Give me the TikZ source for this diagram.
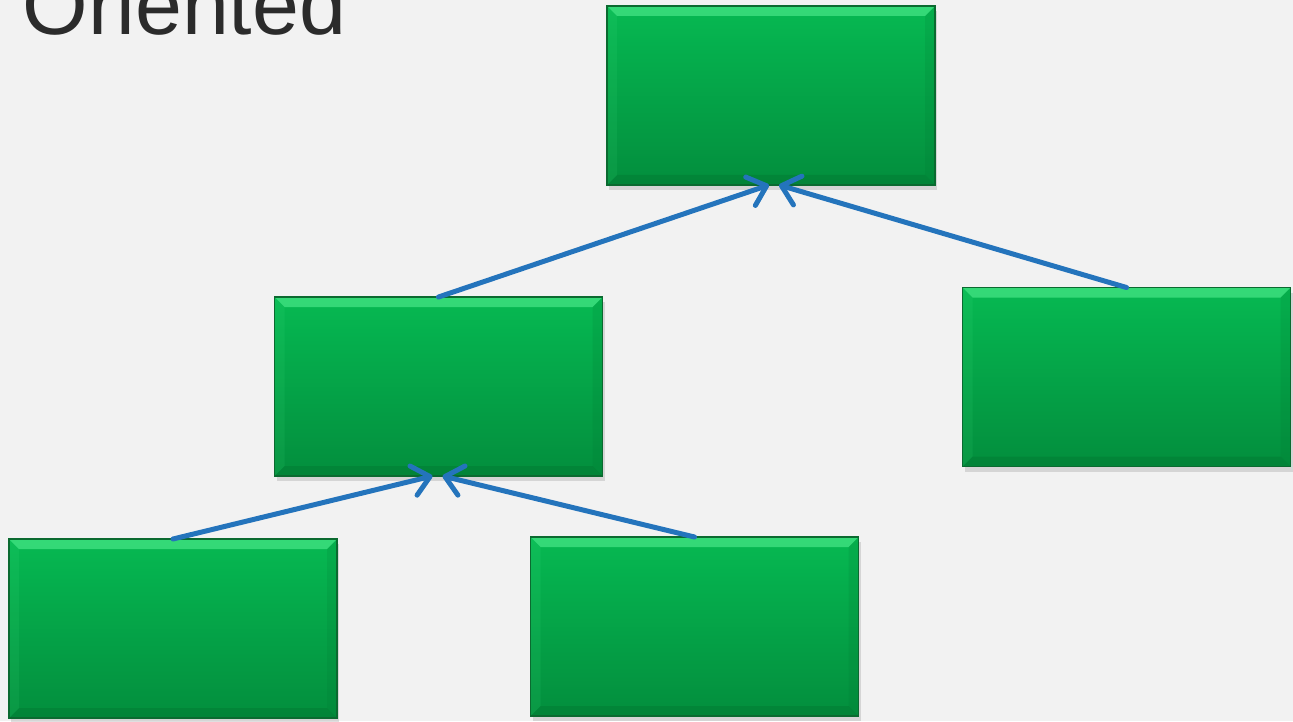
\documentclass[tikz,border=0pt]{standalone}
\usepackage{fontspec}
\setmainfont{Liberation Sans}
\usepackage{xcolor}
\usepackage{tikz}
\usetikzlibrary{shapes,backgrounds,calc,shadows,arrows.meta}

\definecolor{slidebg}{HTML}{F2F2F2}
\definecolor{boxtop}{HTML}{06B952}
\definecolor{boxbottom}{HTML}{038E3D}
\definecolor{boxedge}{HTML}{0B6A30}
\definecolor{bevellight}{HTML}{4DEB8C}
\definecolor{beveldark}{HTML}{02722F}
\definecolor{linkblue}{HTML}{2474BC}
\definecolor{titlegray}{HTML}{2B2B2B}

\begin{document}
\begin{tikzpicture}
        % Define the style for the bevelled green boxes
        \tikzstyle{green box}=[minimum width=3.28cm, minimum height=1.79cm, inner sep=0pt, outer sep=0pt,
            top color=boxtop, bottom color=boxbottom, draw=boxedge, line width=0.5pt,
            drop shadow={shadow xshift=0.02cm, shadow yshift=-0.05cm, opacity=0.25},
            path picture={
                \coordinate (nw) at (path picture bounding box.north west);
                \coordinate (ne) at (path picture bounding box.north east);
                \coordinate (sw) at (path picture bounding box.south west);
                \coordinate (se) at (path picture bounding box.south east);
                \fill[bevellight, opacity=0.65] (nw) -- (ne) -- ($(ne)+(-0.1,-0.1)$) -- ($(nw)+(0.1,-0.1)$) -- cycle;
                \fill[beveldark, opacity=0.35] (sw) -- (se) -- ($(se)+(-0.1,0.1)$) -- ($(sw)+(0.1,0.1)$) -- cycle;
                \fill[bevellight, opacity=0.1] (nw) -- (sw) -- ($(sw)+(0.1,0.1)$) -- ($(nw)+(0.1,-0.1)$) -- cycle;
                \fill[beveldark, opacity=0.15] (ne) -- (se) -- ($(se)+(-0.1,0.1)$) -- ($(ne)+(-0.1,-0.1)$) -- cycle;
            }];
        % Define the style for the links
        \tikzstyle{link}=[draw=linkblue, line width=0.05cm, line cap=round,
            -{Straight Barb[length=0.17cm, width=0.3cm, round]}];

        % Fix the slide area and its background
        \useasboundingbox (0,0) rectangle (12.93,7.21);
        \fill[slidebg] (0,0) rectangle (12.93,7.21);

        % Title, cut by the top edge
        \node[anchor=base west, inner sep=0pt, text=titlegray, font=\fontsize{24pt}{28pt}\selectfont] (title) at (0.22,6.86) {Oriented};

        % Draw the boxes of the tree
        \node[green box] (root) at (7.71,6.255) {};
        \node[green box] (left) at (4.385,3.345) {};
        \node[green box] (right) at (11.265,3.44) {};
        \node[green box] (leafA) at (1.73,0.925) {};
        \node[green box] (leafB) at (6.945,0.945) {};

        % Draw the links up to the parents
        \draw[link] (left.north) -- ([xshift=-0.02cm]root.south);
        \draw[link] (right.north) -- ([xshift=0.08cm]root.south);
        \draw[link] (leafA.north) -- ([xshift=-0.06cm]left.south);
        \draw[link] (leafB.north) -- ([xshift=0.04cm]left.south);
    \end{tikzpicture}
\end{document}
